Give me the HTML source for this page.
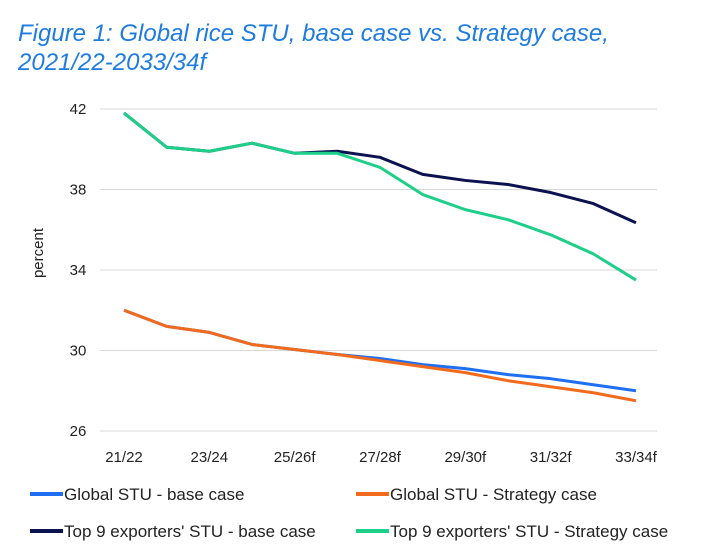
<!DOCTYPE html>
<html><head><meta charset="utf-8"><style>
body{margin:0;background:#fff;width:701px;height:556px;overflow:hidden;font-family:"Liberation Sans",sans-serif}
#title{position:absolute;left:18px;top:19px;color:#1e7be0;font-style:italic;font-size:24px;line-height:29px}
</style></head><body>
<div id="title">Figure 1: Global rice STU, base case vs. Strategy case,<br>2021/22-2033/34f</div>
<svg id="chart" width="701" height="556" style="position:absolute;left:0;top:0"></svg>
<script>
const categories=["21/22","22/23","23/24","24/25","25/26f","26/27f","27/28f","28/29f","29/30f","30/31f","31/32f","32/33f","33/34f"];
const tickLabels=["21/22","23/24","25/26f","27/28f","29/30f","31/32f","33/34f"];
const yTicks=[26,30,34,38,42];
const globalBase=[32.0,31.2,30.9,30.3,30.05,29.8,29.6,29.3,29.1,28.8,28.6,28.3,28.0];
const globalStrategy=[32.0,31.2,30.9,30.3,30.05,29.8,29.5,29.2,28.9,28.5,28.2,27.9,27.5];
const top9Base=[41.8,40.1,39.9,40.3,39.8,39.9,39.6,38.75,38.45,38.25,37.85,37.3,36.35];
const top9Strategy=[41.8,40.1,39.9,40.3,39.8,39.8,39.1,37.75,37.0,36.5,35.75,34.8,33.5];
const svg=document.getElementById('chart');
const NS='http://www.w3.org/2000/svg';
const x=i=>124+i*(636-124)/(categories.length-1);
const y=v=>431-(v-26)*(431-109)/16;
function mk(t,a){const e=document.createElementNS(NS,t);for(const k in a)e.setAttribute(k,a[k]);svg.appendChild(e);return e;}
yTicks.forEach(v=>{
 const g=mk('line',{x1:100,x2:657,y1:y(v),y2:y(v),stroke:'#d9d9d9','stroke-width':1});
 
 
 const t=mk('text',{x:78,y:y(v)+5,'font-size':15,fill:'#222','text-anchor':'middle'});t.textContent=v;
 
 
});
tickLabels.forEach(l=>{
 const i=categories.indexOf(l);
 const t=mk('text',{x:x(i),y:462,'font-size':15,fill:'#222','text-anchor':'middle'});t.textContent=l;
 
 
});
const yt=mk('text',{x:43,y:253,'font-size':15,fill:'#222','text-anchor':'middle',transform:'rotate(-90 43 253)'});yt.textContent='percent';


const series=[[globalBase,'#1f6ff2','global-base-line'],[globalStrategy,'#f26b1d','global-strategy-line'],[top9Base,'#0b1250','top9-base-line'],[top9Strategy,'#1ecf8a','top9-strategy-line']];
series.forEach(s=>{
 const p=mk('polyline',{points:s[0].map((v,i)=>x(i)+','+y(v)).join(' '),fill:'none',stroke:s[1],'stroke-width':3,'stroke-linejoin':'round'});
 
 
});
const leg=[["Global STU - base case",'#1f6ff2',30,494],["Global STU - Strategy case",'#f26b1d',356,494],["Top 9 exporters' STU - base case",'#0b1250',30,531],["Top 9 exporters' STU - Strategy case",'#1ecf8a',356,531]];
leg.forEach((l,k)=>{
 const ln=mk('line',{x1:l[2],x2:l[2]+33,y1:l[3],y2:l[3],stroke:l[1],'stroke-width':4});
 
 
 const t=mk('text',{x:l[2]+34,y:l[3]+6,'font-size':17,fill:'#222'});t.textContent=l[0];
 
 
});
</script>
</body></html>
